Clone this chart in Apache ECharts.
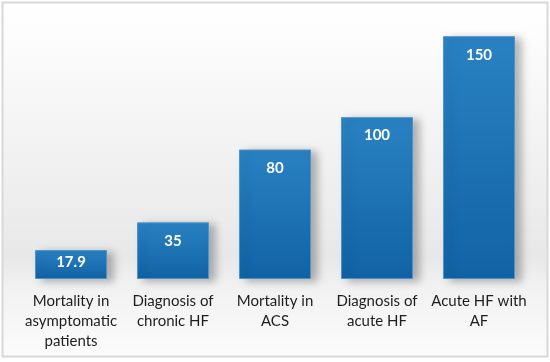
<!DOCTYPE html>
<html><head><meta charset="utf-8">
<script src="https://cdn.jsdelivr.net/npm/echarts@6/dist/echarts.min.js"></script>
<style>html,body{margin:0;padding:0;background:#fff}#c{width:550px;height:362px}</style>
</head><body><div id="c"></div>
<script>
const categories = ['Mortality in\nasymptomatic\npatients', 'Diagnosis of\nchronic HF', 'Mortality in\nACS', 'Diagnosis of\nacute HF', 'Acute HF with\nAF'];
const values = [17.9, 35, 80, 100, 150];
const valueLabels = ['17.9', '35', '80', '100', '150'];

const chart = echarts.init(document.getElementById('c'));
chart.setOption({
  animation: false,
  graphic: [{
    type: 'rect', z: -10, silent: true,
    shape: {x: 2.5, y: 2.5, width: 545, height: 354},
    style: {
      fill: {type: 'linear', x: 0, y: 0, x2: 0, y2: 1, colorStops: [
        {offset: 0, color: '#ffffff'}, {offset: 0.15, color: '#fbfbfb'},
        {offset: 0.72, color: '#e8e8e8'}, {offset: 0.8, color: '#f1f1f1'},
        {offset: 1, color: '#fcfcfc'}]},
      stroke: '#d8d8d8', lineWidth: 2
    }
  }],
  grid: {left: 20, right: 20, top: 20, bottom: 83},
  xAxis: {
    type: 'category', data: categories,
    axisLine: {show: false}, axisTick: {show: false},
    axisLabel: {color: '#1e1e1e', fontFamily: 'Lato', fontSize: 15, lineHeight: 20, margin: 12, interval: 0}
  },
  yAxis: {type: 'value', min: 0, max: 160, show: false, splitLine: {show: false}},
  series: [{
    type: 'bar', barWidth: 72,
    data: values.map((v, i) => i === 0 ? {value: v, label: {position: 'inside', offset: [0, -2]}} : v),
    itemStyle: {
      color: {type: 'linear', x: 0, y: 0, x2: 0, y2: 1, colorStops: [
        {offset: 0, color: '#2a82c3'}, {offset: 1, color: '#1163a5'}]},
      borderColor: '#4a95cf', borderWidth: 1,
      shadowColor: 'rgba(0,0,0,0.28)', shadowBlur: 8, shadowOffsetX: 6, shadowOffsetY: 2
    },
    label: {
      show: true, position: 'insideTop', distance: 11,
      formatter: p => valueLabels[p.dataIndex],
      color: '#fff', fontWeight: 'bold', fontFamily: 'Lato', fontSize: 15
    }
  }]
});
</script></body></html>
